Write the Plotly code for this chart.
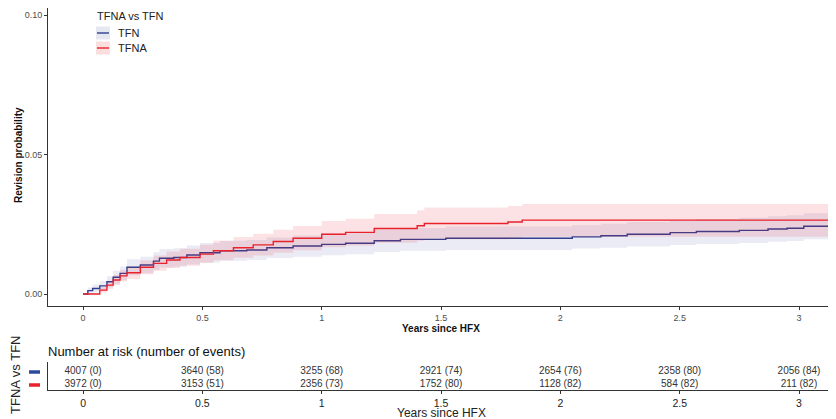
import plotly.graph_objects as go

# ---- data ----
tfn_t  = [0, 0.02, 0.04, 0.07, 0.10, 0.126, 0.155, 0.184, 0.24, 0.295, 0.32, 0.38, 0.435, 0.49, 0.574, 0.686, 0.77, 0.88, 1.0, 1.10, 1.22, 1.33, 1.52, 2.05, 2.17, 2.28, 2.46, 2.57, 2.75, 2.87, 2.95, 3.02, 3.16]
tfn_v  = [0, 0.0012, 0.0020, 0.0029, 0.0044, 0.0060, 0.0074, 0.0096, 0.0104, 0.0118, 0.0128, 0.0131, 0.0140, 0.0148, 0.0155, 0.0158, 0.0166, 0.0172, 0.0178, 0.0182, 0.0191, 0.0196, 0.0200, 0.0205, 0.0209, 0.0214, 0.0220, 0.0224, 0.0228, 0.0233, 0.0236, 0.0243, 0.0243]
tfn_lo = [0, 0.0001, 0.0006, 0.0012, 0.0024, 0.0037, 0.0049, 0.0067, 0.0074, 0.0086, 0.0095, 0.0098, 0.0106, 0.0113, 0.0119, 0.0122, 0.0129, 0.0134, 0.0139, 0.0143, 0.0151, 0.0155, 0.0158, 0.0163, 0.0166, 0.0170, 0.0176, 0.0179, 0.0183, 0.0187, 0.0190, 0.0196, 0.0196]
tfn_hi = [0, 0.0023, 0.0034, 0.0046, 0.0064, 0.0083, 0.0099, 0.0125, 0.0134, 0.0150, 0.0161, 0.0164, 0.0174, 0.0183, 0.0191, 0.0194, 0.0203, 0.0210, 0.0217, 0.0221, 0.0231, 0.0237, 0.0242, 0.0247, 0.0252, 0.0258, 0.0264, 0.0269, 0.0273, 0.0279, 0.0282, 0.0290, 0.0290]

tfna_t  = [0, 0.04, 0.07, 0.10, 0.126, 0.155, 0.184, 0.24, 0.295, 0.35, 0.406, 0.49, 0.546, 0.63, 0.713, 0.797, 0.88, 1.0, 1.10, 1.22, 1.40, 1.43, 1.78, 1.84, 3.16]
tfna_v  = [0, 0, 0.0014, 0.0032, 0.0050, 0.0065, 0.0076, 0.0096, 0.0110, 0.0122, 0.0131, 0.0143, 0.0155, 0.0166, 0.0176, 0.0188, 0.0200, 0.0214, 0.0221, 0.0235, 0.0245, 0.0253, 0.0258, 0.0265, 0.0265]
tfna_lo = [0, 0, 0.0005, 0.0018, 0.0032, 0.0045, 0.0054, 0.0071, 0.0083, 0.0093, 0.0101, 0.0111, 0.0121, 0.0130, 0.0138, 0.0148, 0.0157, 0.0168, 0.0173, 0.0184, 0.0191, 0.0196, 0.0199, 0.0205, 0.0205]
tfna_hi = [0, 0, 0.0024, 0.0046, 0.0068, 0.0086, 0.0098, 0.0121, 0.0138, 0.0152, 0.0162, 0.0177, 0.0191, 0.0204, 0.0216, 0.0230, 0.0244, 0.0262, 0.0270, 0.0287, 0.0300, 0.0310, 0.0316, 0.0323, 0.0323]

risk_times   = [0, 0.5, 1, 1.5, 2, 2.5, 3]
tfn_risk     = [4007, 3640, 3255, 2921, 2654, 2358, 2056]
tfn_events   = [0, 58, 68, 74, 76, 80, 84]
tfna_risk    = [3972, 3153, 2356, 1752, 1128, 584, 211]
tfna_events  = [0, 51, 73, 80, 82, 82, 82]

x_ticks = [0, 0.5, 1, 1.5, 2, 2.5, 3]
x_tick_labels = ["0", "0.5", "1", "1.5", "2", "2.5", "3"]
y_ticks = [0.0, 0.05, 0.10]
y_tick_labels = ["0.00", "0.05", "0.10"]

BLUE = "#2F3F8F"
RED = "#E8212B"
BLUE_FILL = "rgba(47,63,143,0.10)"
RED_FILL = "rgba(232,33,43,0.13)"
FONT = "Liberation Sans, Arial, sans-serif"

# the page has an 8px body margin: figure is drawn from (8,8) of the window
OFF = 8
W, H = 836 - OFF, 419 - OFF

def px(x):
    return (x - OFF) / W

def py(y):
    return 1 - (y - OFF) / H

fig = go.Figure()

def add_group(t, v, lo, hi, color, fill, name):
    fig.add_trace(go.Scatter(x=t, y=lo, mode="lines", line=dict(width=0, shape="hv"),
                             showlegend=False, hoverinfo="skip"))
    fig.add_trace(go.Scatter(x=t, y=v, mode="lines", line=dict(width=1.4, color=color, shape="hv"),
                             fill="tonexty", fillcolor=fill, name=name, showlegend=False))
    fig.add_trace(go.Scatter(x=t, y=hi, mode="lines", line=dict(width=0, shape="hv"),
                             fill="tonexty", fillcolor=fill, showlegend=False, hoverinfo="skip"))

add_group(tfn_t, tfn_v, tfn_lo, tfn_hi, BLUE, BLUE_FILL, "TFN")
add_group(tfna_t, tfna_v, tfna_lo, tfna_hi, RED, RED_FILL, "TFNA")

# risk table
fig.add_trace(go.Scatter(x=risk_times, y=[1.3] * len(risk_times), mode="text",
                         text=[f"{n} ({e})" for n, e in zip(tfn_risk, tfn_events)],
                         textfont=dict(size=10, color="#333333", family=FONT),
                         xaxis="x2", yaxis="y2", showlegend=False, hoverinfo="skip"))
fig.add_trace(go.Scatter(x=risk_times, y=[0.38] * len(risk_times), mode="text",
                         text=[f"{n} ({e})" for n, e in zip(tfna_risk, tfna_events)],
                         textfont=dict(size=10, color="#333333", family=FONT),
                         xaxis="x2", yaxis="y2", showlegend=False, hoverinfo="skip"))

XR = [-0.147, 3.155]
axis_common = dict(showgrid=False, zeroline=False, showline=True, linecolor="#333333", linewidth=1,
                   ticks="outside", ticklen=3, tickcolor="#333333", automargin=False)

# manual legend (keys with shaded box + line)
legend_names = ["TFN", "TFNA"]
legend_lines = [BLUE, RED]
legend_fills = ["rgba(47,63,143,0.12)", "rgba(232,33,43,0.15)"]
legend_ys = [33, 48]

shapes = []
annotations = []
for name, lc, fc, ly in zip(legend_names, legend_lines, legend_fills, legend_ys):
    shapes.append(dict(type="rect", xref="paper", yref="paper", x0=px(96), x1=px(110),
                       y0=py(ly + 6.5), y1=py(ly - 6.5), fillcolor=fc, line=dict(width=0)))
    shapes.append(dict(type="line", xref="paper", yref="paper", x0=px(97), x1=px(109),
                       y0=py(ly), y1=py(ly), line=dict(color=lc, width=1.4)))
    annotations.append(dict(text=name, x=px(116), y=py(ly), xref="paper", yref="paper",
                            xanchor="left", yanchor="middle", showarrow=False,
                            font=dict(size=11, color="#222222")))
annotations.append(dict(text="TFNA vs TFN", x=px(95), y=py(16), xref="paper", yref="paper",
                        xanchor="left", yanchor="middle", showarrow=False,
                        font=dict(size=11, color="#222222")))

annotations += [
    dict(text="<b>Revision probability</b>", x=px(18), y=py(155), xref="paper", yref="paper",
         textangle=-90, xanchor="center", yanchor="middle", showarrow=False,
         font=dict(size=10, color="#111111")),
    dict(text="<b>Years since HFX</b>", x=px(441), y=py(328), xref="paper", yref="paper",
         xanchor="center", yanchor="middle", showarrow=False, font=dict(size=10, color="#111111")),
    dict(text="Years since HFX", x=px(441), y=py(412.5), xref="paper", yref="paper",
         xanchor="center", yanchor="middle", showarrow=False, font=dict(size=12, color="#222222")),
    dict(text="Number at risk (number of events)", x=px(46), y=py(351), xref="paper", yref="paper",
         xanchor="left", yanchor="middle", showarrow=False, font=dict(size=13, color="#111111")),
    dict(text="TFNA vs TFN", x=px(15), y=py(375), xref="paper", yref="paper",
         textangle=-90, xanchor="center", yanchor="middle", showarrow=False,
         font=dict(size=13, color="#222222")),
]
shapes += [
    dict(type="line", xref="paper", yref="paper", x0=px(29), x1=px(40),
         y0=py(372), y1=py(372), line=dict(color="#2B4C9B", width=3.5)),
    dict(type="line", xref="paper", yref="paper", x0=px(29), x1=px(40),
         y0=py(385), y1=py(385), line=dict(color="#E8212B", width=3.5)),
]

fig.update_layout(
    width=W, height=H,
    margin=dict(l=0, r=0, t=0, b=0),
    paper_bgcolor="white", plot_bgcolor="white",
    font=dict(family=FONT, color="#222222"),
    showlegend=False,
    xaxis=dict(domain=[px(48), 1], range=XR, tickvals=x_ticks, ticktext=x_tick_labels,
               tickfont=dict(size=9, color="#4d4d4d"), anchor="y", **axis_common),
    yaxis=dict(domain=[py(306), 1], range=[-0.0043, 0.1047 - 6 / 2790],
               tickvals=y_ticks, ticktext=y_tick_labels,
               tickfont=dict(size=9, color="#4d4d4d"), anchor="x", **axis_common),
    xaxis2=dict(domain=[px(48), 1], range=XR, tickvals=x_ticks, ticktext=x_tick_labels,
                tickfont=dict(size=10.5, color="#222222"), anchor="y2", **axis_common),
    yaxis2=dict(domain=[py(390), py(362)], range=[0, 2], showgrid=False, zeroline=False,
                showline=True, linecolor="#333333", linewidth=1, showticklabels=False, ticks="",
                anchor="x2", automargin=False),
    annotations=annotations,
    shapes=shapes,
)

fig.write_html("out.html")
